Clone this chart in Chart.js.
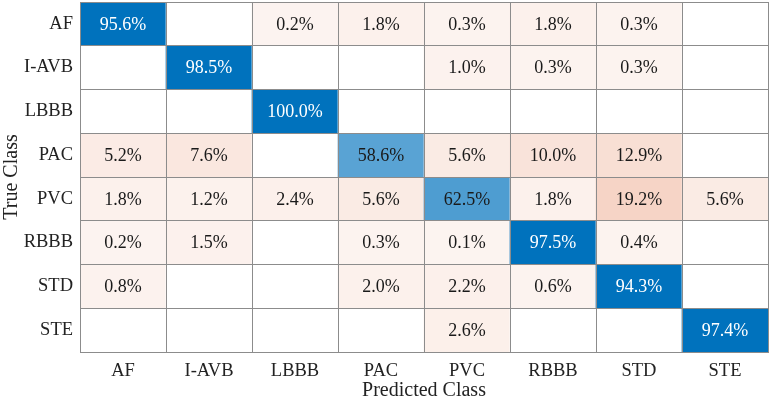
<!DOCTYPE html>
<html>
<head>
<meta charset="utf-8">
<script src="https://cdn.jsdelivr.net/npm/chart.js@4/dist/chart.umd.min.js"></script>
<style>
html,body{margin:0;padding:0;background:#fff;}
#wrap{width:770px;height:401px;position:relative;}
</style>
</head>
<body>
<div id="wrap"><canvas id="c"></canvas></div>
<script>
const predictedClasses = ['AF','I-AVB','LBBB','PAC','PVC','RBBB','STD','STE'];
const trueClasses = ['AF','I-AVB','LBBB','PAC','PVC','RBBB','STD','STE'];
// percentage values, one array per true class (row)
const rowAF   = [95.6, 0, 0.2, 1.8, 0.3, 1.8, 0.3, 0];
const rowIAVB = [0, 98.5, 0, 0, 1.0, 0.3, 0.3, 0];
const rowLBBB = [0, 0, 100.0, 0, 0, 0, 0, 0];
const rowPAC  = [5.2, 7.6, 0, 58.6, 5.6, 10.0, 12.9, 0];
const rowPVC  = [1.8, 1.2, 2.4, 5.6, 62.5, 1.8, 19.2, 5.6];
const rowRBBB = [0.2, 1.5, 0, 0.3, 0.1, 97.5, 0.4, 0];
const rowSTD  = [0.8, 0, 0, 2.0, 2.2, 0.6, 94.3, 0];
const rowSTE  = [0, 0, 0, 0, 2.6, 0, 0, 97.4];
const rows = [rowAF, rowIAVB, rowLBBB, rowPAC, rowPVC, rowRBBB, rowSTD, rowSTE];

const FONT = "'Liberation Serif','Times New Roman',serif";

function mix(c, t){
  const r = Math.round(255 + (c[0]-255)*t);
  const g = Math.round(255 + (c[1]-255)*t);
  const b = Math.round(255 + (c[2]-255)*t);
  return `rgb(${r},${g},${b})`;
}
function cellColor(v, diag){
  if (!v) return '#ffffff';
  if (diag) return mix([0,114,189], Math.min(1, v/90));
  return mix([217,83,25], Math.min(1, 0.065 + v*0.0096));
}

const datasets = rows.map((row, i) => ({
  label: trueClasses[i],
  data: row.map((v, j) => [i, i+1]),
  values: row,
  backgroundColor: row.map((v, j) => cellColor(v, i===j)),
  borderWidth: 0,
  grouped: false,
  barPercentage: 1,
  categoryPercentage: 1,
  yAxisID: 'y'
}));

const textPlugin = {
  id: 'cellText',
  afterDatasetsDraw(chart){
    const ctx = chart.ctx;
    ctx.save();
    ctx.font = '18px ' + FONT;
    ctx.textAlign = 'center';
    ctx.textBaseline = 'middle';
    chart.data.datasets.forEach((ds, i) => {
      const meta = chart.getDatasetMeta(i);
      meta.data.forEach((el, j) => {
        const v = ds.values[j];
        if (!v) return;
        const p = el.getCenterPoint();
        ctx.fillStyle = (i===j && v >= 80) ? '#ffffff' : '#1a1a1a';
        ctx.fillText(v.toFixed(1) + '%', p.x, p.y + 1);
      });
    });
    ctx.restore();
  }
};

new Chart(document.getElementById('c'), {
  type: 'bar',
  data: { labels: predictedClasses, datasets },
  options: {
    responsive: true,
    maintainAspectRatio: false,
    animation: false,
    layout: { padding: { top: 2, right: 2, left: 0, bottom: 0 } },
    plugins: { legend: { display: false }, tooltip: { enabled: false } },
    scales: {
      x: {
        type: 'category',
        offset: true,
        grid: { offset: true, color: '#8c8c8c', lineWidth: 1, drawTicks: false, z: 1 },
        border: { color: '#8c8c8c', z: 1 },
        ticks: { color: '#222', font: { family: FONT, size: 18.5 }, padding: 8 },
        title: { display: true, text: 'Predicted Class', color: '#222', font: { family: FONT, size: 20, lineHeight: 1 }, padding: { top: 0, bottom: 0 } },
        afterFit(s){ s.height = 49; s.paddingLeft = 0; s.paddingRight = 0; }
      },
      y: {
        type: 'linear',
        reverse: true,
        min: 0, max: 8,
        position: 'right',
        ticks: { display: false, stepSize: 1 },
        grid: { color: '#8c8c8c', lineWidth: 1, drawTicks: false, z: 1 },
        border: { color: '#8c8c8c', z: 1 },
        afterFit(s){ s.width = 0; s.paddingTop = 0; s.paddingBottom = 0; }
      },
      yLab: {
        type: 'category',
        position: 'left',
        labels: trueClasses,
        offset: true,
        grid: { display: false, drawTicks: false },
        border: { display: false },
        ticks: { color: '#222', font: { family: FONT, size: 18.5 }, padding: 7 },
        title: { display: true, text: 'True Class', color: '#222', font: { family: FONT, size: 20 }, padding: { top: 0, bottom: 0 } },
        afterFit(s){ s.width = 80; s.paddingTop = 0; s.paddingBottom = 0; }
      }
    }
  },
  plugins: [textPlugin]
});
</script>
</body>
</html>
